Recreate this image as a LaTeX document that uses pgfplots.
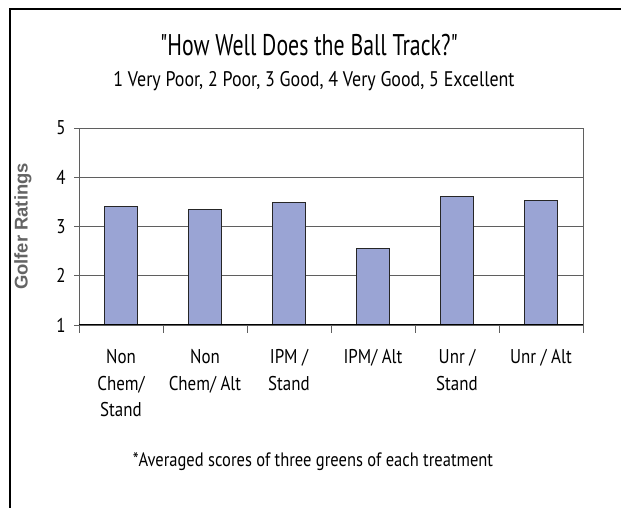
\documentclass[border=0pt]{standalone}
\usepackage{fontspec}
\setmainfont{PT Sans}[FakeStretch=0.85]
\newfontfamily\titlefont{PT Sans}[FakeStretch=0.73]
\newfontfamily\labelfont{Liberation Sans}
\usepackage{pgfplots}
\pgfplotsset{compat=1.18}
\definecolor{barfill}{RGB}{154,164,212}
\definecolor{gridgray}{RGB}{95,95,95}
\definecolor{labelgray}{RGB}{100,100,100}

\begin{document}
\begin{tikzpicture}
\useasboundingbox (0bp,0bp) rectangle (621bp,508bp);
% outer frame (open at right and bottom)
\draw[line width=1.2bp] (10bp,0bp) -- (10bp,499bp) -- (621bp,499bp);
\node[font=\titlefont\fontsize{30}{34}\selectfont] at (309bp,463bp) {\symbol{34}How Well Does the Ball Track?\symbol{34}};
\node[font=\fontsize{21.2}{24}\selectfont] at (314bp,427bp) {1 Very Poor, 2 Poor, 3 Good, 4 Very Good, 5 Excellent};
\node[font=\fontsize{19.5}{22}\selectfont] at (313bp,46bp) {*Averaged scores of three greens of each treatment};
\node[font=\labelfont\bfseries\fontsize{18.5}{20}\selectfont, text=labelgray, rotate=90] at (23bp,281.5bp) {Golfer Ratings};

\begin{axis}[
  at={(79bp,183bp)}, anchor=south west,
  scale only axis, width=504bp, height=197bp,
  xmin=0, xmax=6, ymin=1, ymax=5,
  ytick={1,...,5},
  xtick={0.5,1.5,...,5.5},
  xticklabels={{Non\\Chem/\\Stand},{Non\\Chem/ Alt},{IPM /\\Stand},{IPM/ Alt},{Unr /\\Stand},{Unr / Alt}},
  minor xtick={0,...,6},
  tick align=outside, tick pos=left,
  major x tick style={draw=none},
  minor tick length=8bp, major tick length=5bp,
  every tick/.style={gridgray, line width=0.8bp},
  ymajorgrids, grid style={gridgray, line width=0.8bp},
  axis line style={gridgray, line width=0.8bp},
  /pgf/number format/assume math mode=true,
  xticklabel style={font=\fontsize{20}{26.5}\selectfont, align=center, yshift=-16bp},
  yticklabel style={font=\fontsize{20}{22}\selectfont, xshift=-5bp},
  ybar, bar width=0.4,
]
\addplot[fill=barfill, draw=black!85, line width=1bp] coordinates {
(0.5,3.41) (1.5,3.35) (2.5,3.49) (3.5,2.55) (4.5,3.61) (5.5,3.52)
};
\draw[black, line width=1.2bp] (axis cs:0,1) -- (axis cs:6,1);
\end{axis}
\end{tikzpicture}
\end{document}
